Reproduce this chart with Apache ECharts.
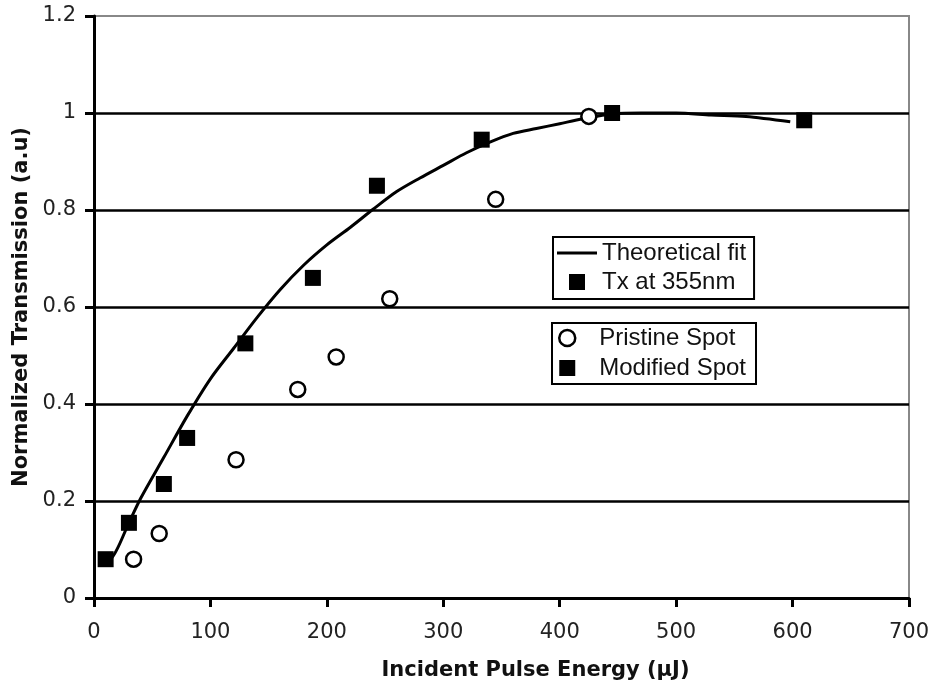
<!DOCTYPE html>
<html>
<head>
<meta charset="utf-8">
<script src="https://cdn.jsdelivr.net/npm/echarts@6/dist/echarts.min.js"></script>
<style>
  html, body { margin: 0; padding: 0; background: #fff; }
  #chart { width: 930px; height: 685px; }
</style>
</head>
<body>
<div id="chart"></div>
<script>
// Transmission vs incident pulse energy
var xTicks = { min: 0, max: 700, step: 100 };
var yTicks = { min: 0, max: 1.2, step: 0.2 };

// Theoretical fit curve [energy (uJ), normalized transmission]
var fitCurve = [
  [10, 0.08], [15, 0.082], [30, 0.155], [40, 0.205], [60, 0.29], [80, 0.375],
  [100, 0.452], [120, 0.515], [140, 0.578], [160, 0.636], [180, 0.686],
  [200, 0.728], [220, 0.764], [240, 0.802], [260, 0.838], [280, 0.866],
  [300, 0.892], [320, 0.918], [340, 0.94], [360, 0.958], [380, 0.968],
  [400, 0.978], [420, 0.988], [445, 0.998], [470, 1.0], [500, 1.0],
  [530, 0.996], [560, 0.993], [598, 0.982]
];

// Pristine spot measurements
var pristineSpot = [
  [34, 0.08], [56, 0.133], [122, 0.285], [175, 0.43], [208, 0.497],
  [254, 0.617], [345, 0.822], [425, 0.993]
];

// Modified spot measurements
var modifiedSpot = [
  [10, 0.08], [30, 0.155], [60, 0.235], [80, 0.33], [130, 0.525],
  [188, 0.66], [243, 0.85], [333, 0.945], [445, 1.0], [610, 0.985]
];

var squareIcon = 'path://M0,0H10V10H0Z';
var circleIcon = 'path://M5,0A5,5,0,1,1,4.999,0Z';
var lineIcon = 'path://M0,0H40V3H0Z';

var chart = echarts.init(document.getElementById('chart'), null, { renderer: 'canvas' });

var tickFont = { fontFamily: 'DejaVu Sans', fontSize: 21, color: '#222' };
var titleFont = { fontFamily: 'DejaVu Sans', fontWeight: 'bold', fontSize: 21, color: '#111' };
var legendFont = { fontFamily: 'Liberation Sans', fontSize: 24, color: '#111' };

chart.setOption({
  animation: false,
  backgroundColor: '#fff',
  grid: {
    left: 94, right: 21, top: 16, bottom: 87,
    outerBoundsMode: 'none',
    containLabel: false,
    show: true, borderColor: '#888', borderWidth: 2, backgroundColor: 'transparent'
  },
  xAxis: {
    type: 'value',
    min: xTicks.min, max: xTicks.max, interval: xTicks.step,
    name: 'Incident Pulse Energy (\u03bcJ)',
    nameLocation: 'middle',
    nameGap: 62,
    nameTextStyle: Object.assign({ padding: [0, 0, 0, 68] }, titleFont),
    axisLine: { show: true, onZero: false, lineStyle: { color: '#000', width: 3 } },
    axisTick: { show: true, inside: false, length: 9, lineStyle: { color: '#000', width: 3 } },
    axisLabel: Object.assign({ margin: 24 }, tickFont),
    splitLine: { show: false }
  },
  yAxis: {
    type: 'value',
    min: yTicks.min, max: yTicks.max, interval: yTicks.step,
    name: 'Normalized Transmission (a.u)',
    nameLocation: 'middle',
    nameGap: 60,
    nameTextStyle: titleFont,
    axisLine: { show: true, onZero: false, lineStyle: { color: '#000', width: 3 } },
    axisTick: { show: true, inside: false, length: 9, lineStyle: { color: '#000', width: 3 } },
    axisLabel: Object.assign({ margin: 18 }, tickFont),
    splitLine: { show: true, showMaxLine: false, lineStyle: { color: '#000', width: 2.5 } }
  },
  legend: [
    {
      data: [
        { name: 'Theoretical fit', icon: lineIcon, itemStyle: { color: '#000' } },
        { name: 'Tx at 355nm', icon: squareIcon, itemStyle: { color: '#000', opacity: 1 } }
      ],
      orient: 'vertical',
      left: 553, top: 237,
      padding: [4, 8, 5, 4],
      itemGap: 5,
      itemWidth: 40, itemHeight: 16,
      backgroundColor: '#fff',
      borderColor: '#000', borderWidth: 2, borderRadius: 0,
      textStyle: legendFont,
      selectedMode: false
    },
    {
      data: [
        { name: 'Pristine Spot', icon: circleIcon, itemStyle: { color: '#fff', borderColor: '#000', borderWidth: 2.5 } },
        { name: 'Modified Spot', icon: squareIcon, itemStyle: { color: '#000', opacity: 1 } }
      ],
      orient: 'vertical',
      left: 552, top: 323,
      padding: [3, 10, 4, 6],
      itemGap: 6,
      itemWidth: 24, itemHeight: 16,
      backgroundColor: '#fff',
      borderColor: '#000', borderWidth: 2, borderRadius: 0,
      textStyle: Object.assign({ padding: [0, 0, 0, 15] }, legendFont),
      selectedMode: false
    }
  ],
  series: [
    {
      name: 'Theoretical fit',
      type: 'line',
      data: fitCurve,
      smooth: 0.3,
      symbol: 'none',
      lineStyle: { color: '#000', width: 3 },
      itemStyle: { color: '#000' },
      z: 2
    },
    {
      name: 'Tx at 355nm',
      type: 'scatter',
      data: [],
      symbol: 'rect',
      symbolSize: 16,
      itemStyle: { color: '#000', opacity: 1 }
    },
    {
      name: 'Pristine Spot',
      type: 'scatter',
      data: pristineSpot,
      symbol: 'circle',
      symbolSize: 15,
      itemStyle: { color: '#fff', borderColor: '#000', borderWidth: 2.5, opacity: 1 },
      z: 3
    },
    {
      name: 'Modified Spot',
      type: 'scatter',
      data: modifiedSpot,
      symbol: 'rect',
      symbolSize: 16,
      itemStyle: { color: '#000', opacity: 1 },
      z: 4
    }
  ]
});
</script>
</body>
</html>
